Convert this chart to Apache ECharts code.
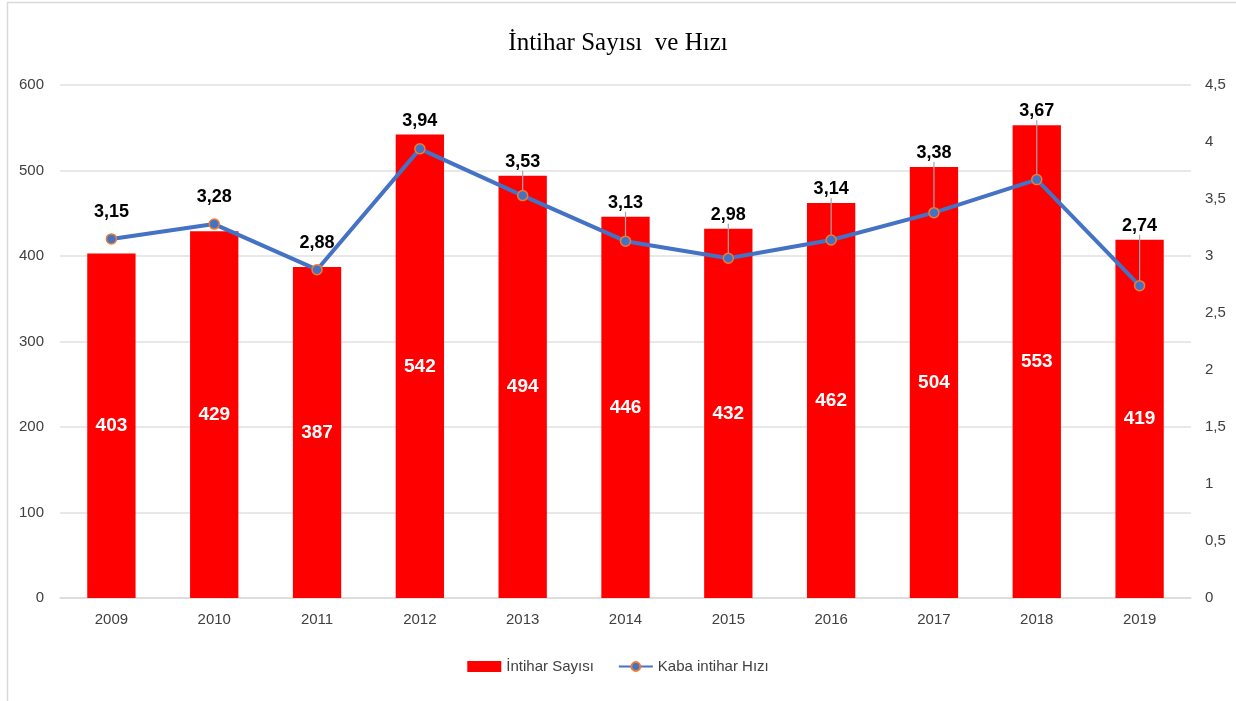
<!DOCTYPE html>
<html>
<head>
<meta charset="utf-8">
<script src="https://cdn.jsdelivr.net/npm/echarts@6/dist/echarts.min.js"></script>
<style>
  html, body { margin: 0; padding: 0; background: #fff; }
  #main { width: 1236px; height: 701px; }
</style>
</head>
<body>
<div id="main"></div>
<script>
  // chart data
  var years = ["2009", "2010", "2011", "2012", "2013", "2014", "2015", "2016", "2017", "2018", "2019"];
  var counts = [403, 429, 387, 542, 494, 446, 432, 462, 504, 553, 419]; // İntihar Sayısı
  var rates = [3.15, 3.28, 2.88, 3.94, 3.53, 3.13, 2.98, 3.14, 3.38, 3.67, 2.74]; // Kaba intihar Hızı
  var leftTicks = [0, 600, 100];
  var rightTicks = [0, 4.5, 0.5];

  var font = "'Liberation Sans Narrow', 'Liberation Sans', sans-serif";
  var myChart = echarts.init(document.getElementById("main"));

  function comma(v) {
    return String(v).replace(".", ",");
  }

  // leader lines only where the label had to move far from its point
  var lineData = rates.map(function (v, i) {
    var gap = counts[i] / leftTicks[1] - v / rightTicks[1];
    return { value: v, labelLine: { show: gap > 0.035 } };
  });

  myChart.setOption({
    animation: false,
    graphic: [{
      type: "rect",
      shape: { x: 7.5, y: 2.5, width: 1260, height: 720 },
      style: { fill: "none", stroke: "#d9d9d9", lineWidth: 1.5 },
      silent: true
    }],
    title: {
      text: "İntihar Sayısı  ve Hızı",
      left: "center",
      top: 26,
      textStyle: {
        fontFamily: "'Liberation Serif', serif",
        fontWeight: "normal",
        fontSize: 25,
        color: "#000"
      }
    },
    legend: {
      bottom: 22,
      left: "center",
      itemWidth: 34,
      itemHeight: 11,
      itemGap: 24,
      textStyle: { fontFamily: font, fontSize: 15, color: "#404040" },
      data: [
        { name: "İntihar Sayısı", icon: "rect" },
        { name: "Kaba intihar Hızı" }
      ]
    },
    grid: { left: 60, right: 45, top: 85, bottom: 103 },
    xAxis: {
      type: "category",
      data: years,
      axisLine: { lineStyle: { color: "#d9d9d9", width: 1.5 } },
      axisTick: { show: false },
      axisLabel: { color: "#404040", fontFamily: font, fontSize: 15, margin: 14 }
    },
    yAxis: [{
      type: "value",
      min: leftTicks[0],
      max: leftTicks[1],
      interval: leftTicks[2],
      axisLine: { show: false },
      axisTick: { show: false },
      splitLine: { lineStyle: { color: "#e0e0e0", width: 1.5 } },
      axisLabel: { color: "#404040", fontFamily: font, fontSize: 15, margin: 16 }
    }, {
      type: "value",
      min: rightTicks[0],
      max: rightTicks[1],
      interval: rightTicks[2],
      axisLine: { show: false },
      axisTick: { show: false },
      splitLine: { show: false },
      axisLabel: {
        color: "#404040", fontFamily: font, fontSize: 15, margin: 14,
        formatter: function (v) { return comma(v); }
      }
    }],
    series: [{
      name: "İntihar Sayısı",
      type: "bar",
      data: counts,
      barWidth: "47%",
      itemStyle: { color: "#ff0000" },
      label: {
        show: true,
        position: "inside",
        color: "#fff",
        fontFamily: font,
        fontWeight: "bold",
        fontSize: 19
      }
    }, {
      name: "Kaba intihar Hızı",
      type: "line",
      yAxisIndex: 1,
      data: lineData,
      symbol: "circle",
      symbolSize: 10,
      lineStyle: { color: "#4472c4", width: 4 },
      itemStyle: { color: "#4472c4", borderColor: "#ed7d31", borderWidth: 1.5 },
      z: 3,
      label: {
        show: true,
        position: "top",
        color: "#000",
        fontFamily: font,
        fontWeight: "bold",
        fontSize: 18,
        formatter: function (p) { return comma(p.value); }
      },
      labelLine: { lineStyle: { color: "#a6a6a6", width: 1.2 } },
      // keep the rate label above both its point and the bar top
      labelLayout: function (p) {
        var i = p.dataIndex;
        var pointY = p.rect.y + p.rect.height / 2;
        var barTop = myChart.convertToPixel({ yAxisIndex: 0 }, counts[i]);
        var y = Math.min(pointY - 27, barTop - 14);
        return {
          x: p.rect.x + p.rect.width / 2,
          y: y,
          align: "center",
          verticalAlign: "middle"
        };
      }
    }]
  });

  window.addEventListener("resize", function () {
    myChart.resize();
  });
</script>
</body>
</html>
